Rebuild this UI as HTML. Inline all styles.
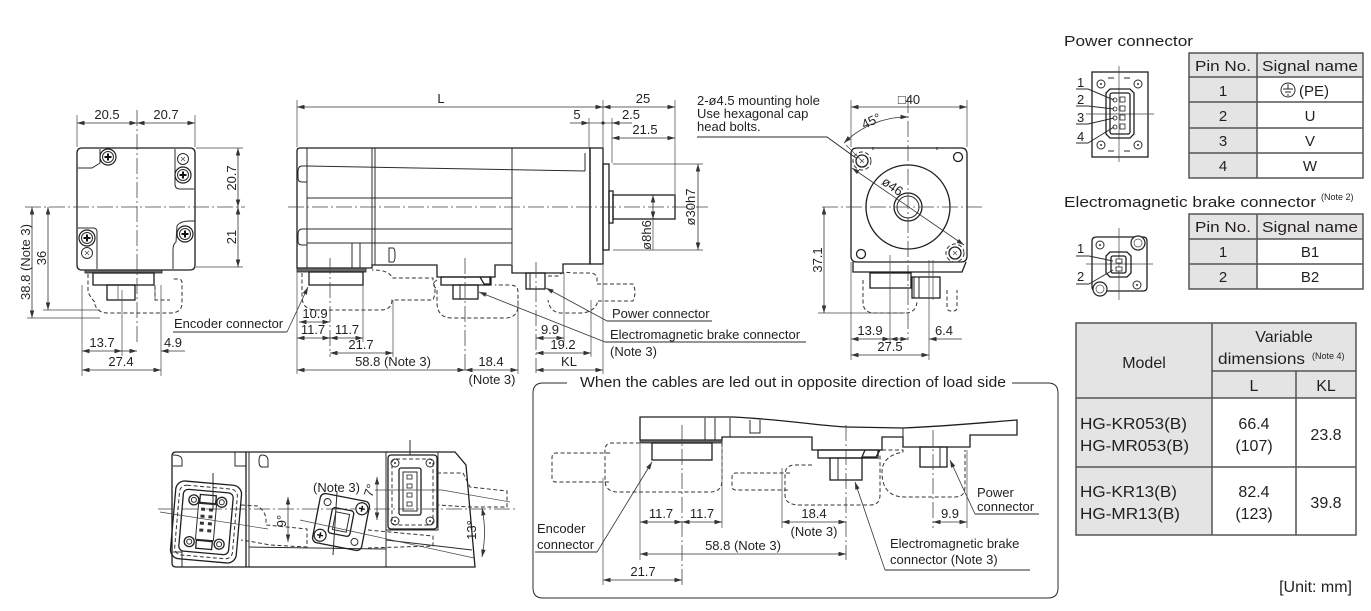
<!DOCTYPE html>
<html><head><meta charset="utf-8"><style>
html,body{margin:0;padding:0;background:#fff;width:1371px;height:611px;overflow:hidden}
svg{display:block}
.l{stroke:#2b2b2b;stroke-width:1;fill:none}
.b{stroke:#1e1e1e;stroke-width:1.3;fill:none}
.d{stroke:#333;stroke-width:1;fill:none;stroke-dasharray:4 2.5}
.c{stroke:#444;stroke-width:.8;fill:none;stroke-dasharray:16 3 2 3}
.t{stroke:#444;stroke-width:.7;fill:none}
.dm{stroke:#333;stroke-width:.8;fill:none;marker-start:url(#a);marker-end:url(#a)}
.de{stroke:#333;stroke-width:.8;fill:none;marker-end:url(#a)}
text{font-family:"Liberation Sans",Arial,sans-serif;fill:#231f20;font-size:13px}
.m{text-anchor:middle}
.h{font-size:15px}
.g{font-size:16px}
.s{font-size:9px}
</style></head><body>
<svg width="1371" height="611" viewBox="0 0 1371 611" xmlns="http://www.w3.org/2000/svg">
<defs>
<marker id="a" viewBox="0 0 10 6" refX="10" refY="3" markerWidth="8" markerHeight="4.5" orient="auto-start-reverse" markerUnits="userSpaceOnUse"><path d="M0,0L10,3L0,6z" fill="#333"/></marker>
<g id="sb"><circle r="8" stroke="#1e1e1e" stroke-width="1.2" fill="#fff"/><circle r="5.5" class="l"/><path d="M-3.5,0H3.5M0,-3.5V3.5" stroke="#111" stroke-width="2"/></g>
<g id="ss"><circle r="5.5" class="l" fill="#fff"/><path d="M-2,-2L2,2M2,-2L-2,2" class="t"/></g>
<g id="ho"><circle r="4" class="l" fill="#fff"/><circle r="1" fill="#333"/></g>
</defs>

<!-- ============ LEFT VIEW ============ -->
<line class="t" x1="77" y1="115" x2="77" y2="147"/>
<line class="t" x1="195" y1="115" x2="195" y2="147"/>
<line class="dm" x1="77" y1="123" x2="137" y2="123"/>
<line class="dm" x1="137" y1="123" x2="195" y2="123"/>
<text class="m" x="107" y="119">20.5</text>
<text class="m" x="166" y="119">20.7</text>
<path class="b" d="M82,148H190Q195,148 195,153V265Q195,270 190,270H82Q77,270 77,265V153Q77,148 82,148Z"/>
<path class="l" d="M78,168H92L100,163V149"/>
<path class="l" d="M175,149V184Q175,189 180,189H194"/>
<path class="l" d="M78,228H93Q97,228 97,232V269"/>
<path class="l" d="M173,269V250Q173,244 176,242L177,226Q180,221 190,221H195"/>
<use href="#sb" x="108" y="157"/>
<use href="#ss" x="183" y="159"/>
<use href="#sb" x="183" y="175"/>
<use href="#sb" x="87" y="238"/>
<use href="#ss" x="87" y="253"/>
<use href="#sb" x="185" y="234"/>
<rect x="85" y="270" width="77" height="3" fill="#666" stroke="#222" stroke-width=".8"/>
<rect class="b" x="93" y="273" width="61" height="12"/>
<rect class="b" x="107" y="285" width="28" height="15"/>
<line class="t" x1="118" y1="285" x2="118" y2="300"/>
<line class="t" x1="155" y1="285" x2="155" y2="300"/>
<path class="d" d="M88,274V292Q92,300 95,302V305Q98,313 108,313H170Q182,313 182,303V283Q182,279 178,279H172"/>
<path class="d" d="M155,286V300H170"/>
<line class="c" x1="25" y1="207" x2="245" y2="207"/>
<line class="c" x1="137" y1="110" x2="137" y2="345"/>
<line class="t" x1="196" y1="148" x2="243" y2="148"/>
<line class="t" x1="196" y1="267" x2="243" y2="267"/>
<line class="dm" x1="238" y1="148" x2="238" y2="207"/>
<line class="dm" x1="238" y1="207" x2="238" y2="267"/>
<text class="m" transform="translate(236,178) rotate(-90)">20.7</text>
<text class="m" transform="translate(236,237) rotate(-90)">21</text>
<line class="t" x1="43" y1="310" x2="100" y2="310"/>
<line class="t" x1="27" y1="318" x2="100" y2="318"/>
<line class="dm" x1="48" y1="207" x2="48" y2="310"/>
<line class="dm" x1="32" y1="207" x2="32" y2="318"/>
<text class="m" transform="translate(46,258) rotate(-90)">36</text>
<text class="m" transform="translate(30,262) rotate(-90)">38.8 (Note 3)</text>
<line class="t" x1="82" y1="285" x2="82" y2="376"/>
<line class="t" x1="161" y1="285" x2="161" y2="376"/>
<line class="t" x1="122" y1="290" x2="122" y2="356"/>
<line class="dm" x1="82" y1="351" x2="122" y2="351"/>
<line class="de" x1="185" y1="351" x2="161" y2="351"/>
<line class="de" x1="122" y1="351" x2="137" y2="351"/>
<line class="dm" x1="82" y1="370" x2="161" y2="370"/>
<text class="m" x="102" y="347">13.7</text>
<text class="m" x="173" y="347">4.9</text>
<text class="m" x="121" y="366">27.4</text>
<text x="174" y="328">Encoder connector</text>
<line class="l" x1="173" y1="332" x2="287" y2="332"/>
<line class="de" x1="287" y1="332" x2="308" y2="287"/>

<!-- ============ SIDE VIEW ============ -->
<line class="t" x1="297" y1="100" x2="297" y2="147"/>
<line class="t" x1="603" y1="100" x2="603" y2="147"/>
<line class="t" x1="675" y1="100" x2="675" y2="194"/>
<line class="dm" x1="297" y1="107" x2="603" y2="107"/>
<line class="dm" x1="603" y1="107" x2="675" y2="107"/>
<text class="m" x="441" y="103">L</text>
<text class="m" x="643" y="103">25</text>
<line class="t" x1="589" y1="118" x2="589" y2="147"/>
<line class="t" x1="612" y1="118" x2="612" y2="163"/>
<line class="de" x1="570" y1="123" x2="589" y2="123"/>
<line class="t" x1="589" y1="123" x2="612" y2="123"/>
<circle cx="603" cy="123" r="1.6" fill="#333"/>
<line class="de" x1="632" y1="123" x2="612" y2="123"/>
<text class="m" x="577" y="119">5</text>
<text class="m" x="631" y="119">2.5</text>
<line class="dm" x1="612" y1="138" x2="675" y2="138"/>
<text class="m" x="645" y="134">21.5</text>
<path class="b" d="M300,148H590V264H563V273H512V265H495V277H437V265H372V268H297V151Q297,148 300,148Z"/>
<rect class="b" x="590" y="148" width="13" height="116"/>
<rect class="b" x="603" y="164" width="6" height="86"/>
<rect class="b" x="609" y="191" width="4" height="32"/>
<rect class="b" x="613" y="195" width="62" height="24"/>
<line class="l" x1="372" y1="148" x2="372" y2="265"/>
<line class="l" x1="375" y1="148" x2="375" y2="265"/>
<line class="l" x1="512" y1="148" x2="512" y2="264"/>
<line class="l" x1="307" y1="148" x2="307" y2="268"/>
<line class="l" x1="307" y1="166" x2="585" y2="171"/>
<line class="l" x1="585" y1="153" x2="585" y2="171"/>
<line class="l" x1="307" y1="198" x2="512" y2="198"/>
<line class="l" x1="307" y1="229" x2="512" y2="229"/>
<line class="l" x1="307" y1="243" x2="512" y2="243"/>
<path class="l" d="M307,166H302Q298,166 298,172V178Q298,182 302,182H307"/>
<path class="l" d="M307,229H302Q298,229 298,235V241Q298,245 302,245H307"/>
<path class="l" d="M352,243V268M360,243V268"/>
<path class="l" d="M393,248H389V262H393Q395,262 395,255Q395,248 393,248Z"/>
<rect x="297" y="268" width="69" height="4" fill="#666" stroke="#222" stroke-width=".8"/>
<rect class="b" x="309" y="272" width="54" height="13"/>
<path class="d" d="M302,273V296Q302,310 316,310H380Q392,310 392,300H433Q437,290 433,282V278H392Q390,270 372,270"/>
<rect class="b" x="441" y="277" width="50" height="8"/>
<rect class="b" x="453" y="285" width="25" height="14"/>
<line class="l" x1="460" y1="285" x2="460" y2="299"/>
<path class="b" d="M480,277L484,284H490V277"/>
<path class="d" d="M437,280Q430,284 437,289V302Q437,318 452,318H505Q518,318 518,305V292Q518,285 510,285H495"/>
<rect class="b" x="526" y="273" width="19" height="16"/>
<line class="l" x1="530" y1="273" x2="530" y2="289"/>
<path class="d" d="M548,276H558Q562,271 572,273H590Q596,273 597,278V284H633Q637,292 633,301H597V304Q592,313 580,313H562Q550,313 548,300"/>
<line class="c" x1="288" y1="207" x2="708" y2="207"/>
<line class="c" x1="330" y1="258" x2="330" y2="357"/>
<line class="c" x1="465" y1="258" x2="465" y2="373"/>
<line class="c" x1="536" y1="262" x2="536" y2="373"/>
<line class="t" x1="297" y1="270" x2="297" y2="374"/>
<line class="t" x1="363" y1="285" x2="363" y2="342"/>
<line class="t" x1="393" y1="300" x2="393" y2="357"/>
<line class="t" x1="518" y1="300" x2="518" y2="374"/>
<line class="t" x1="564" y1="273" x2="564" y2="342"/>
<line class="t" x1="591" y1="300" x2="591" y2="357"/>
<line class="t" x1="603" y1="264" x2="603" y2="374"/>
<line class="dm" x1="299" y1="322" x2="330" y2="322"/>
<line class="dm" x1="297" y1="338" x2="330" y2="338"/>
<line class="dm" x1="330" y1="338" x2="363" y2="338"/>
<line class="dm" x1="330" y1="353" x2="393" y2="353"/>
<line class="dm" x1="297" y1="370" x2="465" y2="370"/>
<line class="dm" x1="465" y1="370" x2="518" y2="370"/>
<line class="dm" x1="536" y1="338" x2="564" y2="338"/>
<line class="dm" x1="536" y1="353" x2="591" y2="353"/>
<line class="dm" x1="536" y1="370" x2="603" y2="370"/>
<text class="m" x="315" y="318">10.9</text>
<text class="m" x="313" y="334">11.7</text>
<text class="m" x="347" y="334">11.7</text>
<text class="m" x="361" y="349">21.7</text>
<text class="m" x="393" y="366">58.8 (Note 3)</text>
<text class="m" x="491" y="366">18.4</text>
<text class="m" x="492" y="384">(Note 3)</text>
<text class="m" x="550" y="334">9.9</text>
<text class="m" x="563" y="349">19.2</text>
<text class="m" x="569" y="366">KL</text>
<text x="612" y="318">Power connector</text>
<line class="l" x1="607" y1="321" x2="712" y2="321"/>
<line class="de" x1="607" y1="321" x2="546" y2="288"/>
<text x="610" y="339">Electromagnetic brake connector</text>
<line class="l" x1="605" y1="342" x2="806" y2="342"/>
<line class="de" x1="605" y1="342" x2="479" y2="292"/>
<text x="610" y="356">(Note 3)</text>
<line class="t" x1="613" y1="164" x2="703" y2="164"/>
<line class="t" x1="613" y1="250" x2="703" y2="250"/>
<line class="dm" x1="698" y1="164" x2="698" y2="250"/>
<text class="m" transform="translate(695,207) rotate(-90)">ø30h7</text>
<line class="t" x1="653" y1="219" x2="653" y2="250"/>
<line class="dm" x1="653" y1="195" x2="653" y2="219"/>
<text class="m" transform="translate(651,235) rotate(-90)">ø8h6</text>
<text x="697" y="105">2-ø4.5 mounting hole</text>
<text x="697" y="118">Use hexagonal cap</text>
<text x="697" y="131">head bolts.</text>
<polyline class="l" points="697,137 827,137 856,158"/>

<!-- ============ FRONT VIEW ============ -->
<line class="t" x1="851" y1="100" x2="851" y2="147"/>
<line class="t" x1="967" y1="100" x2="967" y2="147"/>
<line class="dm" x1="851" y1="107" x2="967" y2="107"/>
<text class="m" x="909" y="104" font-family="Liberation Sans, DejaVu Sans, sans-serif">□40</text>
<path class="b" d="M857,148H961Q967,148 967,154V256Q967,262 961,262H857Q851,262 851,256V154Q851,148 857,148Z"/>
<path class="l" d="M873,147V150M937,147V150"/>
<circle class="b" cx="908" cy="207" r="42"/>
<circle class="b" cx="908" cy="207" r="14"/>
<circle class="l" cx="908" cy="207" r="11"/>
<circle class="b" cx="862" cy="161" r="6" fill="#fff"/>
<path class="t" d="M860,159L864,163M864,159L860,163"/>
<circle class="d" cx="862" cy="161" r="9"/>
<circle class="b" cx="958" cy="157" r="4.5"/>
<circle class="b" cx="861" cy="254" r="4.5"/>
<circle class="b" cx="955" cy="253" r="6" fill="#fff"/>
<path class="t" d="M953,251L957,255M957,251L953,255"/>
<circle class="d" cx="955" cy="253" r="9"/>
<line class="dm" x1="852" y1="168" x2="964" y2="245"/>
<text class="m" transform="translate(890,190) rotate(34.5)">ø46</text>
<path class="dm" d="M908,117A90,90 0 0,0 844,143"/>
<line class="t" x1="862" y1="161" x2="846" y2="145"/>
<text class="m" transform="translate(873,125) rotate(-25)">45°</text>
<line class="c" x1="908" y1="97" x2="908" y2="340"/>
<line class="c" x1="822" y1="207" x2="985" y2="207"/>
<path class="b" d="M853,262V272H962L966,262"/>
<rect class="b" x="870" y="273" width="41" height="15"/>
<rect class="b" x="912" y="277" width="28" height="21"/>
<rect class="l" x="914" y="277" width="5" height="21"/>
<path class="d" d="M863,280V302Q863,313 875,313H905Q917,313 917,300"/>
<path class="d" d="M947,290V307Q947,311 951,311H953Q957,311 957,307V290"/>
<line class="t" x1="851" y1="262" x2="851" y2="360"/>
<line class="t" x1="890" y1="255" x2="890" y2="344"/>
<line class="t" x1="929" y1="260" x2="929" y2="360"/>
<line class="t" x1="933" y1="260" x2="933" y2="300"/>
<line class="t" x1="818" y1="313" x2="905" y2="313"/>
<line class="dm" x1="824" y1="207" x2="824" y2="313"/>
<text class="m" transform="translate(822,260) rotate(-90)">37.1</text>
<line class="dm" x1="851" y1="339" x2="890" y2="339"/>
<line class="dm" x1="890" y1="339" x2="908" y2="339"/>
<line class="de" x1="962" y1="339" x2="929" y2="339"/>
<text class="m" x="870" y="335">13.9</text>
<text class="m" x="944" y="335">6.4</text>
<line class="dm" x1="851" y1="355" x2="929" y2="355"/>
<text class="m" x="890" y="351">27.5</text>

<!-- ============ POWER CONNECTOR ============ -->
<text class="h" x="1064" y="46" textLength="129" lengthAdjust="spacingAndGlyphs">Power connector</text>
<rect class="b" x="1092" y="72" width="56" height="85"/>
<use href="#ho" x="1101" y="84"/><use href="#ho" x="1138" y="84"/>
<use href="#ho" x="1101" y="145"/><use href="#ho" x="1138" y="145"/>
<path class="l" d="M1108,78H1114M1124,78H1130M1108,151H1114M1124,151H1130"/>
<line class="t" x1="1086" y1="114" x2="1154" y2="114"/>
<line class="t" x1="1119" y1="66" x2="1119" y2="162"/>
<path class="b" d="M1110,89H1130L1134,93V134L1130,138H1110L1106,134V93Z" fill="#fff"/>
<rect class="b" x="1110" y="93" width="20" height="41" rx="2"/>
<g fill="#fff" stroke="#222" stroke-width=".8">
<rect x="1120" y="97" width="5" height="5"/><rect x="1120" y="106" width="5" height="5"/><rect x="1120" y="115" width="5" height="5"/><rect x="1120" y="124" width="5" height="5"/>
<circle cx="1115" cy="100" r="2"/><circle cx="1115" cy="109" r="2"/><circle cx="1115" cy="118" r="2"/><circle cx="1115" cy="127" r="2"/>
</g>
<text x="1077" y="87">1</text><text x="1077" y="104">2</text><text x="1077" y="122">3</text><text x="1077" y="141">4</text>
<polyline class="l" points="1076,89 1088,89 1114,100"/>
<polyline class="l" points="1076,106 1088,106 1114,109"/>
<polyline class="l" points="1076,124 1088,124 1114,118"/>
<polyline class="l" points="1076,143 1088,143 1114,127"/>

<rect x="1189" y="53" width="174" height="125" fill="#fff"/>
<rect x="1189" y="53" width="174" height="24" fill="#e4e4e4"/>
<rect x="1189" y="77" width="68" height="101" fill="#e4e4e4"/>
<g stroke="#555" stroke-width="1.5" fill="none">
<rect x="1189" y="53" width="174" height="125"/>
<path d="M1189,77H1363M1189,102H1363M1189,128H1363M1189,153H1363M1257,53V178"/>
</g>
<text class="h m" x="1223" y="71" textLength="56" lengthAdjust="spacingAndGlyphs">Pin No.</text>
<text class="h m" x="1310" y="71" textLength="96" lengthAdjust="spacingAndGlyphs">Signal name</text>
<text class="h m" x="1223" y="96">1</text>
<text class="h m" x="1223" y="121">2</text>
<text class="h m" x="1223" y="146">3</text>
<text class="h m" x="1223" y="171">4</text>
<circle cx="1288" cy="90" r="7" class="l"/>
<path class="l" d="M1288,84V89M1283,89H1293M1285,92H1291M1287,95H1289"/>
<text class="h" x="1299" y="96">(PE)</text>
<text class="h m" x="1310" y="121">U</text>
<text class="h m" x="1310" y="146">V</text>
<text class="h m" x="1310" y="171">W</text>

<!-- ============ BRAKE CONNECTOR ============ -->
<text class="h" x="1064" y="207" textLength="252" lengthAdjust="spacingAndGlyphs">Electromagnetic brake connector</text>
<text class="s" x="1321" y="200">(Note 2)</text>
<path class="b" d="M1097,237H1143Q1147,237 1147,241V287Q1147,291 1143,291H1097Q1092,291 1092,287V241Q1092,237 1097,237Z"/>
<line class="t" x1="1086" y1="264" x2="1153" y2="264"/>
<line class="t" x1="1119" y1="228" x2="1119" y2="300"/>
<use href="#ho" x="1100" y="245"/>
<use href="#ho" x="1137" y="285"/>
<circle cx="1138" cy="243" r="7" stroke="#222" stroke-width="1.2" fill="#fff"/><circle cx="1138" cy="243" r="4" class="t"/>
<circle cx="1100" cy="289" r="7" stroke="#222" stroke-width="1.2" fill="#fff"/><circle cx="1100" cy="289" r="4" class="t"/>
<path class="b" d="M1110,252H1127L1131,256V273L1127,277H1110L1106,273V256Z" fill="#fff"/>
<rect class="b" x="1111" y="256" width="15" height="17" rx="2"/>
<g fill="#fff" stroke="#222" stroke-width=".8">
<rect x="1116" y="259" width="6" height="4"/><rect x="1116" y="267" width="6" height="4"/>
</g>
<text x="1077" y="253">1</text><text x="1077" y="281">2</text>
<polyline class="l" points="1076,256 1089,256 1113,261"/>
<polyline class="l" points="1076,284 1089,284 1113,270"/>

<rect x="1189" y="214" width="174" height="75" fill="#fff"/>
<rect x="1189" y="214" width="174" height="25" fill="#e4e4e4"/>
<rect x="1189" y="239" width="68" height="50" fill="#e4e4e4"/>
<g stroke="#555" stroke-width="1.5" fill="none">
<rect x="1189" y="214" width="174" height="75"/>
<path d="M1189,239H1363M1189,264H1363M1257,214V289"/>
</g>
<text class="h m" x="1223" y="232" textLength="56" lengthAdjust="spacingAndGlyphs">Pin No.</text>
<text class="h m" x="1310" y="232" textLength="96" lengthAdjust="spacingAndGlyphs">Signal name</text>
<text class="h m" x="1223" y="257">1</text>
<text class="h m" x="1223" y="282">2</text>
<text class="h m" x="1310" y="257">B1</text>
<text class="h m" x="1310" y="282">B2</text>

<!-- ============ MODEL TABLE ============ -->
<rect x="1076" y="323" width="280" height="212" fill="#e4e4e4"/>
<rect x="1212" y="398" width="144" height="137" fill="#fff"/>
<g stroke="#555" stroke-width="1.5" fill="none">
<rect x="1076" y="323" width="280" height="212"/>
<path d="M1212,323V535M1296,371V535M1212,371H1356M1076,398H1356M1076,467H1356"/>
</g>
<text class="g m" x="1144" y="368">Model</text>
<text class="g m" x="1284" y="342">Variable</text>
<text class="g" x="1218" y="364" textLength="87" lengthAdjust="spacingAndGlyphs">dimensions</text>
<text class="s" x="1312" y="359">(Note 4)</text>
<text class="g m" x="1254" y="391">L</text>
<text class="g m" x="1326" y="391">KL</text>
<text class="g" x="1080" y="429" textLength="107" lengthAdjust="spacingAndGlyphs">HG-KR053(B)</text>
<text class="g" x="1080" y="451" textLength="109" lengthAdjust="spacingAndGlyphs">HG-MR053(B)</text>
<text class="g m" x="1254" y="429">66.4</text>
<text class="g m" x="1254" y="451">(107)</text>
<text class="g m" x="1326" y="440">23.8</text>
<text class="g" x="1080" y="497" textLength="97" lengthAdjust="spacingAndGlyphs">HG-KR13(B)</text>
<text class="g" x="1080" y="519" textLength="100" lengthAdjust="spacingAndGlyphs">HG-MR13(B)</text>
<text class="g m" x="1254" y="497">82.4</text>
<text class="g m" x="1254" y="519">(123)</text>
<text class="g m" x="1326" y="508">39.8</text>
<text class="g" x="1352" y="592" text-anchor="end">[Unit: mm]</text>

<!-- ============ BOTTOM BOX ============ -->
<path class="l" d="M567,383H543Q533,383 533,393V588Q533,598 543,598H1048Q1058,598 1058,588V393Q1058,383 1048,383H1012"/>
<text class="h" x="580" y="387" textLength="426" lengthAdjust="spacingAndGlyphs">When the cables are led out in opposite direction of load side</text>
<path class="b" d="M640,417H733C790,420 820,426 847,427L903,428C950,426 990,422 1017,420V435H970V447H903V437H882V450H812V437H722V440H640Z"/>
<line class="l" x1="903" y1="428" x2="903" y2="437"/>
<path class="l" d="M705,418V440M715,418V440M730,418V437M750,420V433H760V420"/>
<rect x="640" y="440" width="82" height="3" fill="#666" stroke="#222" stroke-width=".8"/>
<rect class="b" x="652" y="443" width="60" height="17"/>
<rect class="b" x="818" y="450" width="60" height="8"/>
<rect class="b" x="830" y="458" width="32" height="22"/>
<line class="l" x1="838" y1="458" x2="838" y2="480"/>
<path class="b" d="M865,450L862,457H876L880,450"/>
<rect class="b" x="920" y="447" width="27" height="20"/>
<line class="l" x1="940" y1="447" x2="940" y2="467"/>
<path class="d" d="M610,453H556Q552,453 552,458V478Q552,482 556,482H610"/>
<path class="d" d="M640,443H612Q605,443 605,450V480Q605,492 618,492H710Q722,492 722,480V443"/>
<path class="d" d="M790,473H736Q732,473 732,477V486Q732,490 736,490H790"/>
<path class="d" d="M812,465H795Q785,465 785,475V495Q785,505 800,505H870Q880,505 880,495V455"/>
<path class="d" d="M882,450H903V452Q882,456 882,472Q882,497 905,497H955Q965,497 965,487V450"/>
<line class="c" x1="682" y1="425" x2="682" y2="588"/>
<line class="c" x1="846" y1="425" x2="846" y2="560"/>
<line class="c" x1="933" y1="430" x2="933" y2="528"/>
<line class="t" x1="640" y1="444" x2="640" y2="560"/>
<line class="t" x1="722" y1="445" x2="722" y2="528"/>
<line class="t" x1="603" y1="478" x2="603" y2="585"/>
<line class="t" x1="782" y1="468" x2="782" y2="528"/>
<line class="t" x1="967" y1="450" x2="967" y2="528"/>
<line class="dm" x1="640" y1="522" x2="682" y2="522"/>
<line class="dm" x1="682" y1="522" x2="722" y2="522"/>
<line class="dm" x1="782" y1="522" x2="846" y2="522"/>
<line class="dm" x1="933" y1="522" x2="967" y2="522"/>
<line class="dm" x1="640" y1="554" x2="846" y2="554"/>
<line class="dm" x1="603" y1="580" x2="682" y2="580"/>
<text class="m" x="661" y="518">11.7</text>
<text class="m" x="702" y="518">11.7</text>
<text class="m" x="814" y="518">18.4</text>
<text class="m" x="814" y="536">(Note 3)</text>
<text class="m" x="950" y="518">9.9</text>
<text class="m" x="743" y="550">58.8 (Note 3)</text>
<text class="m" x="643" y="576">21.7</text>
<text x="537" y="533">Encoder</text>
<text x="537" y="549">connector</text>
<line class="l" x1="535" y1="552" x2="597" y2="552"/>
<line class="de" x1="597" y1="552" x2="652" y2="462"/>
<text x="977" y="497">Power</text>
<text x="977" y="511">connector</text>
<line class="l" x1="975" y1="514" x2="1039" y2="514"/>
<line class="de" x1="975" y1="514" x2="950" y2="460"/>
<text x="890" y="548">Electromagnetic brake</text>
<text x="890" y="564">connector (Note 3)</text>
<line class="l" x1="885" y1="570" x2="1030" y2="570"/>
<line class="de" x1="885" y1="570" x2="855" y2="482"/>

<!-- ============ BOTTOM-LEFT VIEW ============ -->
<path class="b" d="M176,452H455L466,465L475,567H176Q172,567 172,563V456Q172,452 176,452Z"/>
<line class="b" x1="246" y1="452" x2="246" y2="567"/>
<line class="l" x1="249" y1="452" x2="249" y2="567"/>
<line class="l" x1="386" y1="452" x2="386" y2="567"/>
<path class="l" d="M386,530H438V452"/>
<path class="l" d="M249,547L386,549M386,540L472,550"/>
<path class="l" d="M173,455Q182,455 182,460V466H173M235,452V466H246M262,455Q268,455 268,461V467H262Q259,467 259,461Q259,455 262,455M173,552H182V567"/>
<line class="c" x1="158" y1="509" x2="515" y2="509"/>
<g transform="translate(206,522) rotate(5)">
<rect class="b" x="-33" y="-39" width="66" height="78" rx="9" fill="#fff"/>
<rect class="d" x="-29" y="-35" width="58" height="70" rx="7"/>
<rect class="b" x="-25" y="-31" width="50" height="62" rx="5"/>
<circle class="b" cx="-14" cy="-21" r="5"/><circle class="l" cx="-14" cy="-21" r="2.5"/>
<circle class="b" cx="14" cy="-21" r="5"/><circle class="l" cx="14" cy="-21" r="2.5"/>
<circle class="b" cx="-15" cy="21" r="5"/><circle class="l" cx="-15" cy="21" r="2.5"/>
<circle class="b" cx="15" cy="21" r="5"/><circle class="l" cx="15" cy="21" r="2.5"/>
<rect class="b" x="-8" y="-27" width="16" height="8"/>
<rect class="b" x="-8" y="19" width="16" height="8"/>
<rect class="l" x="-9" y="-18" width="18" height="36"/>
<g fill="#333"><rect x="-6" y="-14" width="4" height="3"/><rect x="2" y="-14" width="4" height="3"/><rect x="-6" y="-7" width="4" height="3"/><rect x="2" y="-7" width="4" height="3"/><rect x="-6" y="0" width="4" height="3"/><rect x="2" y="0" width="4" height="3"/><rect x="-6" y="7" width="4" height="3"/><rect x="2" y="7" width="4" height="3"/></g>
</g>
<line class="l" x1="213" y1="473" x2="213" y2="510"/>
<line class="t" x1="160" y1="512" x2="268" y2="529"/>
<path class="d" d="M241,505L258,506Q266,512 266,520V525L307,529V547L270,545Q255,542 241,540"/>
<g transform="translate(341,522) rotate(11)">
<rect class="b" x="-25" y="-25" width="50" height="50" rx="5" fill="#fff"/>
<circle class="l" cx="-17" cy="-17" r="3.5"/>
<circle cx="18" cy="-17" r="6" stroke="#222" stroke-width="1.2" fill="#fff"/><path d="M15,-17H21M18,-20V-14" stroke="#111" stroke-width="1.5"/>
<circle cx="-18" cy="17" r="6" stroke="#222" stroke-width="1.2" fill="#fff"/><path d="M-21,17H-15M-18,14V20" stroke="#111" stroke-width="1.5"/>
<circle class="l" cx="17" cy="17" r="3.5"/>
<rect class="b" x="-11" y="-13" width="22" height="26" rx="3"/>
<rect class="l" x="-7" y="-9" width="14" height="18" fill="#ddd"/>
</g>
<line class="l" x1="337" y1="492" x2="333" y2="555"/>
<path class="d" d="M368,530L433,536V546L368,548"/>
<line class="t" x1="300" y1="520" x2="474" y2="558"/>
<rect class="b" x="388" y="455" width="49" height="74" rx="3" fill="#fff"/>
<rect class="d" x="392" y="459" width="41" height="66" rx="4"/>
<use href="#ho" x="395" y="463"/><use href="#ho" x="430" y="463"/>
<use href="#ho" x="395" y="521"/><use href="#ho" x="430" y="521"/>
<rect class="b" x="399" y="468" width="22" height="47" rx="2"/>
<rect class="l" x="403" y="472" width="14" height="39"/>
<g fill="#fff" stroke="#222" stroke-width=".8"><rect x="407" y="475" width="5" height="4"/><rect x="407" y="484" width="5" height="4"/><rect x="407" y="493" width="5" height="4"/><rect x="407" y="502" width="5" height="4"/></g>
<line class="t" x1="375" y1="490" x2="442" y2="490"/>
<line class="l" x1="410" y1="440" x2="410" y2="455"/>
<path class="d" d="M437,473H463L470,487L507,491V507L470,507L437,505"/>
<line class="t" x1="442" y1="490" x2="510" y2="502"/>
<line class="dm" x1="288" y1="497" x2="288" y2="542"/>
<text class="m" transform="translate(286,521) rotate(-90)">9°</text>
<line class="dm" x1="377" y1="477" x2="377" y2="520"/>
<text class="m" transform="translate(374,492) rotate(-70)">7°</text>
<path class="dm" d="M482,508Q487,532 482,557"/>
<text class="m" transform="translate(476,530) rotate(-90)">13°</text>
<text x="313" y="492">(Note 3)</text>
</svg>
</body></html>
